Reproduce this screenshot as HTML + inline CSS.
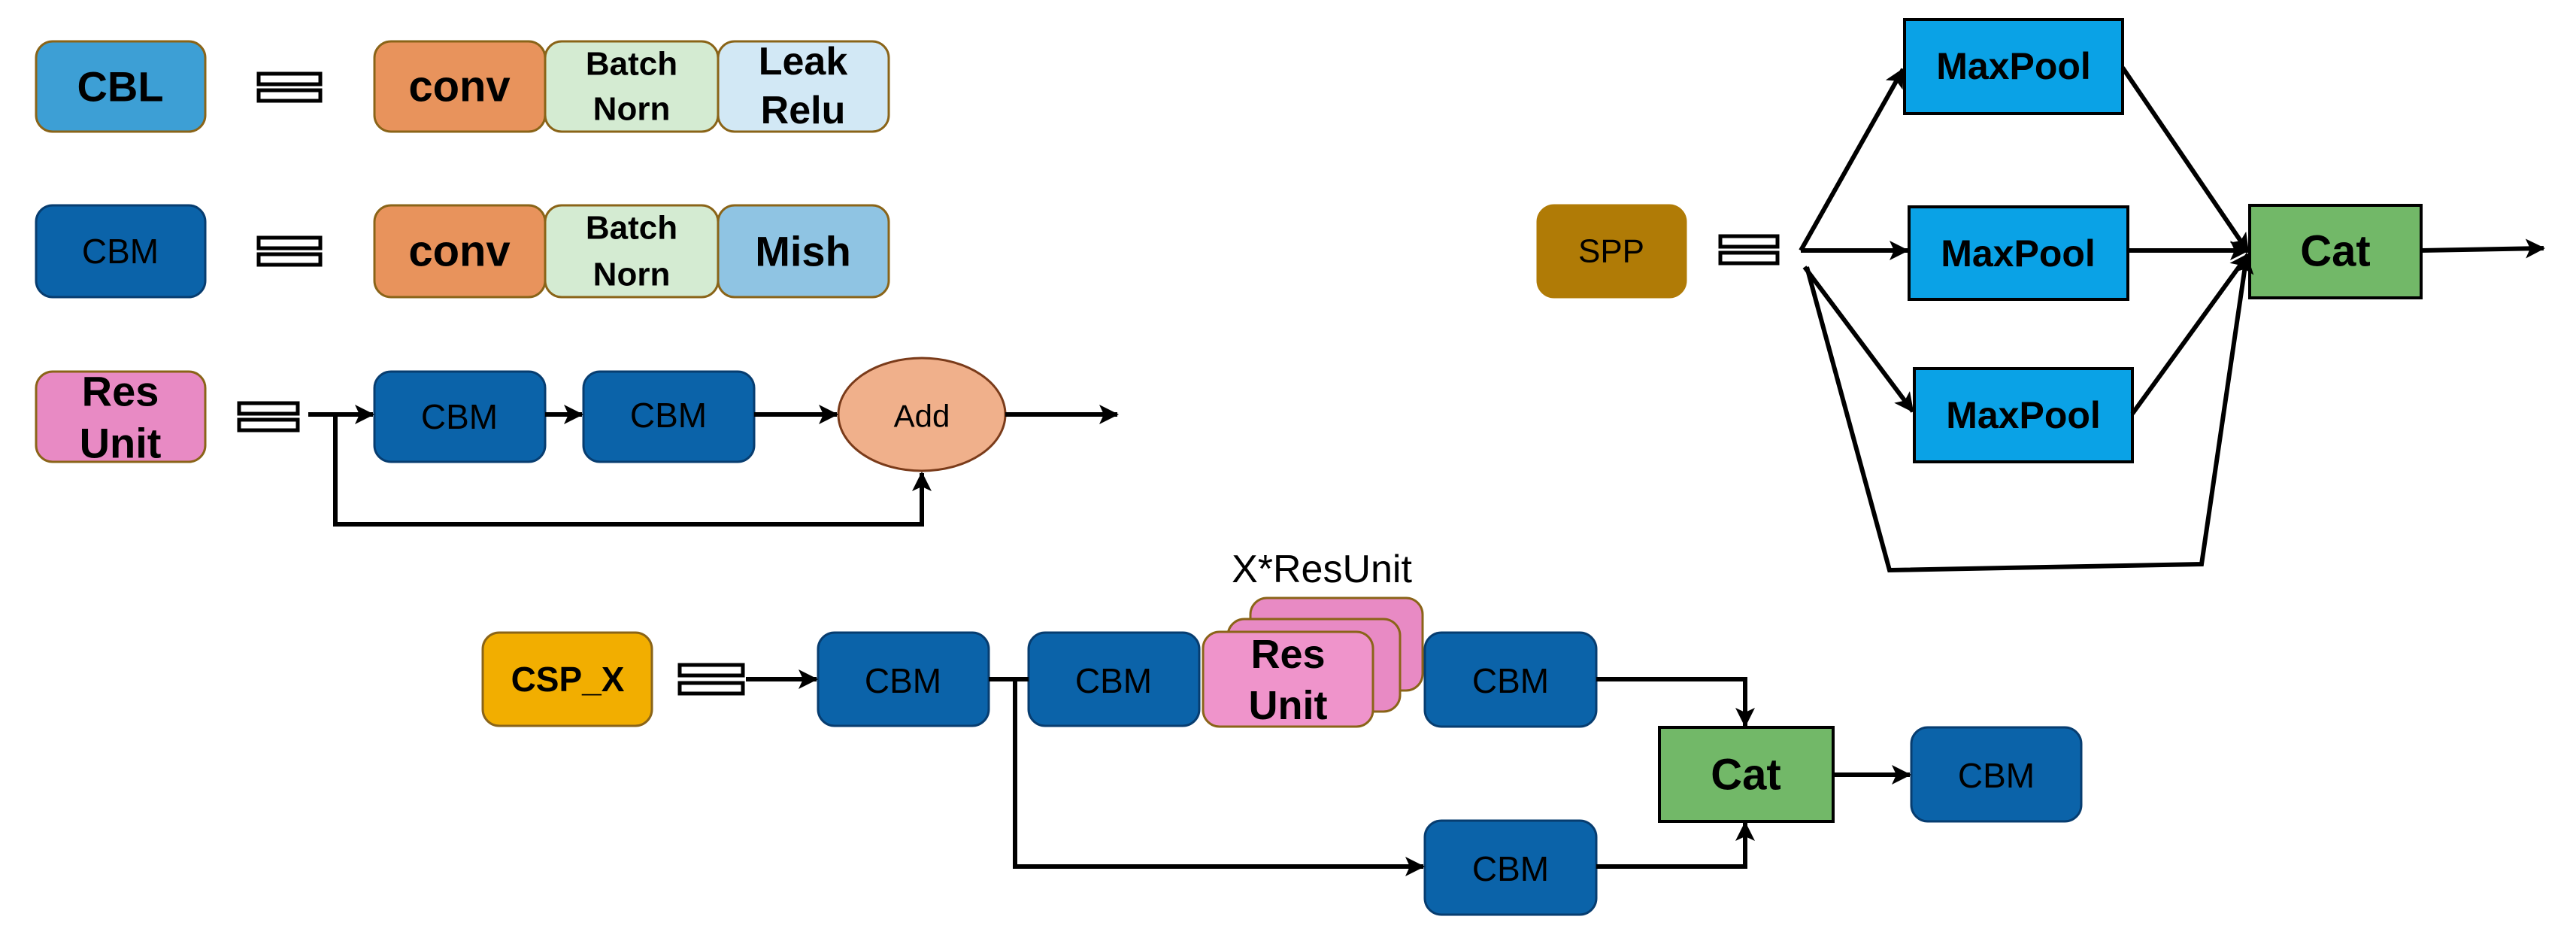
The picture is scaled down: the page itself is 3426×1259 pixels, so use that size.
<!DOCTYPE html>
<html><head><meta charset="utf-8"><style>
html,body{margin:0;padding:0;background:#fff;}
svg{display:block;}
text{font-family:"Liberation Sans",sans-serif;text-anchor:middle;dominant-baseline:central;}
</style></head><body>
<svg width="3426" height="1259" viewBox="0 0 3426 1259" xmlns="http://www.w3.org/2000/svg">
<defs>
<marker id="b" markerWidth="26" markerHeight="26" refX="24" refY="13" orient="auto" markerUnits="userSpaceOnUse"><path d="M0,0 L26,13 L0,26 L6,13 Z" fill="#000"/></marker>
</defs>
<g stroke="#8a6418" stroke-width="3">
<rect x="48" y="55" width="225" height="120" rx="22" fill="#3d9fd5"/>
<rect x="498" y="55" width="227" height="120" rx="22" fill="#e8935c"/>
<rect x="725" y="55" width="230" height="120" rx="22" fill="#d4ebd2"/>
<rect x="955" y="55" width="227" height="120" rx="22" fill="#d2e8f5"/>
<rect x="48" y="273" width="225" height="122" rx="22" fill="#0b63a9" stroke="#073d70"/>
<rect x="498" y="273" width="227" height="122" rx="22" fill="#e8935c"/>
<rect x="725" y="273" width="230" height="122" rx="22" fill="#d4ebd2"/>
<rect x="955" y="273" width="227" height="122" rx="22" fill="#8fc4e3"/>
<rect x="48" y="494" width="225" height="120" rx="22" fill="#e88ac4"/>
<rect x="498" y="494" width="227" height="120" rx="22" fill="#0b63a9" stroke="#073d70"/>
<rect x="776" y="494" width="227" height="120" rx="22" fill="#0b63a9" stroke="#073d70"/>
<ellipse cx="1226" cy="551" rx="111" ry="75" fill="#f0b08b" stroke="#7a3b1a"/>
<rect x="2045" y="273" width="197" height="122" rx="22" fill="#b07b06" stroke="#b07b06"/>
<rect x="642" y="841" width="225" height="124" rx="22" fill="#f2ae00"/>
<rect x="1088" y="841" width="227" height="124" rx="22" fill="#0b63a9" stroke="#073d70"/>
<rect x="1368" y="841" width="227" height="124" rx="22" fill="#0b63a9" stroke="#073d70"/>
<rect x="1663" y="795" width="229" height="123" rx="22" fill="#e88ac4"/>
<rect x="1633" y="823" width="229" height="123" rx="22" fill="#e88ac4"/>
<rect x="1600" y="840" width="226" height="126" rx="22" fill="#ef94cb"/>
<rect x="1895" y="841" width="228" height="125" rx="22" fill="#0b63a9" stroke="#073d70"/>
<rect x="1895" y="1091" width="228" height="125" rx="22" fill="#0b63a9" stroke="#073d70"/>
<rect x="2542" y="967" width="226" height="125" rx="22" fill="#0b63a9" stroke="#073d70"/>
</g>
<g stroke="#000" stroke-width="4">
<rect x="2533" y="26" width="290" height="125" fill="#0aa2e6"/>
<rect x="2539" y="275" width="291" height="123" fill="#0aa2e6"/>
<rect x="2546" y="490" width="290" height="124" fill="#0aa2e6"/>
<rect x="2992" y="273" width="228" height="123" fill="#72b868"/>
<rect x="2207" y="967" width="231" height="125" fill="#72b868"/>
</g>
<g fill="#fff" stroke="#000" stroke-width="5">
<rect x="344" y="98" width="82" height="14"/><rect x="344" y="120" width="82" height="14"/>
<rect x="344" y="316" width="82" height="14"/><rect x="344" y="338" width="82" height="14"/>
<rect x="318" y="536" width="78" height="14"/><rect x="318" y="558" width="78" height="14"/>
<rect x="2288" y="314" width="76" height="14"/><rect x="2288" y="336" width="76" height="14"/>
<rect x="904" y="884" width="84" height="14"/><rect x="904" y="908" width="84" height="14"/>
</g>
<g stroke="#000" stroke-width="6" fill="none">
<line x1="410" y1="551" x2="496" y2="551" marker-end="url(#b)"/>
<line x1="725" y1="551" x2="774" y2="551" marker-end="url(#b)"/>
<line x1="1003" y1="551" x2="1113" y2="551" marker-end="url(#b)"/>
<line x1="1337" y1="551" x2="1486" y2="551" marker-end="url(#b)"/>
<polyline points="446,551 446,697 1226,697 1226,629" marker-end="url(#b)"/>
<line x1="2395" y1="333" x2="2531" y2="92" marker-end="url(#b)"/>
<line x1="2395" y1="333" x2="2537" y2="333" marker-end="url(#b)"/>
<line x1="2400" y1="355" x2="2544" y2="547" marker-end="url(#b)"/>
<line x1="2823" y1="90" x2="2990" y2="335" marker-end="url(#b)"/>
<line x1="2830" y1="333" x2="2990" y2="333" marker-end="url(#b)"/>
<line x1="2836" y1="550" x2="2990" y2="338" marker-end="url(#b)"/>
<polyline points="2403,355 2513,758 2928,750 2988,340" marker-end="url(#b)"/>
<line x1="3220" y1="333" x2="3383" y2="330" marker-end="url(#b)"/>
<line x1="992" y1="903" x2="1086" y2="903" marker-end="url(#b)"/>
<line x1="1315" y1="903" x2="1368" y2="903"/>
<polyline points="1350,903 1350,1152 1893,1152" marker-end="url(#b)"/>
<polyline points="2123,903 2321,903 2321,965" marker-end="url(#b)"/>
<polyline points="2123,1152 2321,1152 2321,1094" marker-end="url(#b)"/>
<line x1="2438" y1="1030" x2="2540" y2="1030" marker-end="url(#b)"/>
</g>
<g fill="#000">
<text x="160" y="115" font-size="56" font-weight="bold">CBL</text>
<text x="611" y="115" font-size="58" font-weight="bold">conv</text>
<text x="840" y="85" font-size="44" font-weight="bold">Batch</text>
<text x="840" y="145" font-size="44" font-weight="bold">Norn</text>
<text x="1068" y="82" font-size="52" font-weight="bold">Leak</text>
<text x="1068" y="147" font-size="52" font-weight="bold">Relu</text>
<text x="160" y="334" font-size="46">CBM</text>
<text x="611" y="334" font-size="58" font-weight="bold">conv</text>
<text x="840" y="303" font-size="44" font-weight="bold">Batch</text>
<text x="840" y="365" font-size="44" font-weight="bold">Norn</text>
<text x="1068" y="334" font-size="56" font-weight="bold">Mish</text>
<text x="160" y="520" font-size="56" font-weight="bold">Res</text>
<text x="160" y="589" font-size="56" font-weight="bold">Unit</text>
<text x="611" y="554" font-size="46">CBM</text>
<text x="889" y="552" font-size="46">CBM</text>
<text x="1226" y="553" font-size="42">Add</text>
<text x="2143" y="334" font-size="44">SPP</text>
<text x="2678" y="88" font-size="50" font-weight="bold">MaxPool</text>
<text x="2684" y="337" font-size="50" font-weight="bold">MaxPool</text>
<text x="2691" y="552" font-size="50" font-weight="bold">MaxPool</text>
<text x="3106" y="334" font-size="58" font-weight="bold">Cat</text>
<text x="755" y="903" font-size="46" font-weight="bold">CSP_X</text>
<text x="1201" y="905" font-size="46">CBM</text>
<text x="1481" y="905" font-size="46">CBM</text>
<text x="1713" y="870" font-size="54" font-weight="bold">Res</text>
<text x="1713" y="938" font-size="54" font-weight="bold">Unit</text>
<text x="1758" y="757" font-size="52">X*ResUnit</text>
<text x="2009" y="905" font-size="46">CBM</text>
<text x="2009" y="1155" font-size="46">CBM</text>
<text x="2322" y="1030" font-size="58" font-weight="bold">Cat</text>
<text x="2655" y="1031" font-size="46">CBM</text>
</g>
</svg>
</body></html>
